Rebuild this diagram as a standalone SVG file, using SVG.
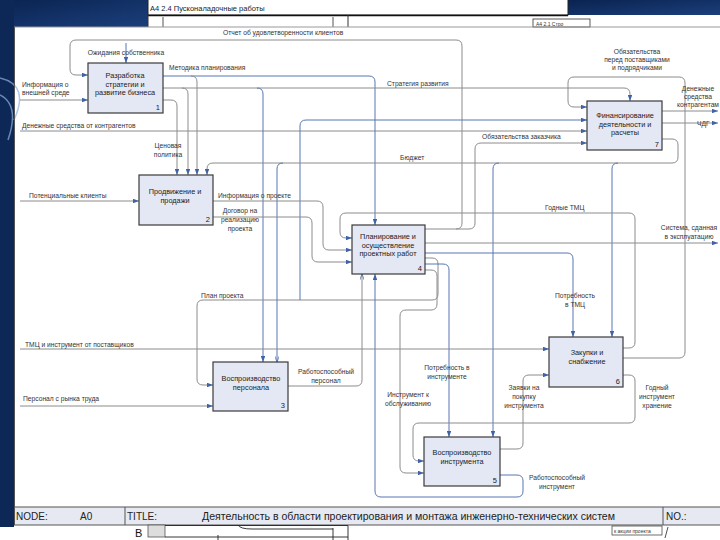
<svg xmlns="http://www.w3.org/2000/svg" width="720" height="540" viewBox="0 0 720 540">
<defs>
<linearGradient id="nav" x1="0" y1="0" x2="1" y2="1"><stop offset="0" stop-color="#0a2350"/><stop offset="1" stop-color="#1b3f7c"/></linearGradient>
<marker id="a" viewBox="0 0 8 6" refX="8" refY="3" markerWidth="6" markerHeight="4.5" orient="auto" markerUnits="userSpaceOnUse"><path d="M0,0 L8,3 L0,6 z" fill="#3f62a8"/></marker>
<marker id="h" viewBox="0 0 8 6" refX="8" refY="3" markerWidth="6" markerHeight="4.5" orient="auto" markerUnits="userSpaceOnUse"><path d="M0,0 L8,3 L0,6" fill="none" stroke="#3f62a8" stroke-width="1"/></marker>
</defs>
<style>
.c path{fill:none;stroke:#8c8c8c;stroke-width:1}
.c path.b{stroke:#5677b3}
.c path.e{marker-end:url(#a)}
.c path.o{marker-end:url(#h)}
.box rect{fill:#e4e8f4;stroke:#3a3a3a;stroke-width:1.2}
text{font-family:"Liberation Sans",Arial,sans-serif}
.bl{font-size:7.3px;fill:#222;text-anchor:middle}
.n{font-size:7.5px;fill:#222;text-anchor:end}
.t{font-size:6.7px;fill:#333}
.tm{font-size:6.7px;fill:#333;text-anchor:middle}
.tb{font-size:10px;fill:#222}
</style>
<rect width="720" height="540" fill="#fff"/>
<rect x="0" y="0" width="148" height="27" fill="url(#nav)"/>
<rect x="0" y="0" width="14" height="527" fill="#0d2856"/>
<rect x="568" y="0" width="152" height="15" fill="url(#nav)"/>
<path d="M0,78 Q30,85 14,120 M0,95 Q20,105 8,140" fill="none" stroke="#8fb0e0" stroke-width="1.5" opacity="0.7"/>
<!-- top window -->
<rect x="148" y="-1" width="420" height="16" fill="#fff" stroke="#222" stroke-width="1"/>
<line x1="148" y1="15.5" x2="568" y2="15.5" stroke="#111" stroke-width="1.5"/>
<text x="150" y="11" font-size="7.5" fill="#222">А4 2.4 Пусконаладочные работы</text>
<line x1="148" y1="15" x2="148" y2="27" stroke="#333"/>
<line x1="163" y1="17" x2="163" y2="27" stroke="#555"/>
<line x1="333" y1="17" x2="333" y2="27" stroke="#555"/>
<line x1="348" y1="15" x2="348" y2="27" stroke="#333"/>
<rect x="533" y="19" width="57" height="8" fill="#fff" stroke="#333" stroke-width="0.8"/>
<text x="536" y="25.5" font-size="5" fill="#333">А4 2.1 Стро</text>
<!-- frame -->
<line x1="14" y1="27" x2="720" y2="27" stroke="#999" stroke-width="1"/>
<line x1="14.5" y1="27" x2="14.5" y2="525" stroke="#555" stroke-width="1"/>

<g id="connectors" class="c">
<path class="e" d="M456,229 Q462,229 462,223 V46 Q462,40 456,40 H76 Q70,40 70,46 V69 Q70,75 76,75 H88"/>
<path class="e" d="M425,229 H469 Q475,229 475,223 V149 Q475,143 481,143 H587"/>
<path class="e b" d="M126,43 V63"/>
<path class="e" d="M20,100 H88"/>
<path class="e" d="M20,131 H587"/>
<path class="e b" d="M163,76 H369 Q375,76 375,82 V225"/>
<path class="e" d="M191,76 Q197,76 197,82 V175"/>
<path class="e" d="M163,88 H624 Q630,88 630,94 V101"/>
<path class="e" d="M182,88 Q188,88 188,94 V175"/>
<path class="e b" d="M257,88 Q263,88 263,94 V362"/>
<path class="e" d="M163,100 H171 Q177,100 177,106 V175"/>
<path class="e" d="M425,258 H432 Q438,258 438,264 V294 Q438,300 432,300 H203 Q197,300 197,306 V379 Q197,385 203,385 H213"/>
<path class="e b" d="M300,300 V126 Q300,120 306,120 H587"/>
<path class="e" d="M662,139 H672 Q678,139 678,145 V157 Q678,163 672,163 H213 Q207,163 207,169 V175"/>
<path class="o b" d="M283,163 Q277,163 277,169 V362"/>
<path class="e b" d="M499,163 Q493,163 493,169 V437"/>
<path class="e b" d="M618,163 Q612,163 612,169 V337"/>
<path class="e" d="M20,201 H139"/>
<path class="e" d="M213,201 H317 Q323,201 323,207 V244 Q323,250 329,250 H352"/>
<path class="e" d="M213,217 H306 Q312,217 312,223 V256 Q312,262 318,262 H352"/>
<path class="e" d="M623,348 H629 Q635,348 635,342 V219 Q635,213 629,213 H346 Q340,213 340,219 V232 Q340,238 346,238 H352"/>
<path class="e" d="M425,243 H718"/>
<path class="e b" d="M425,253 H567 Q573,253 573,259 V337"/>
<path class="e b" d="M425,264 H443 Q449,264 449,270 V437"/>
<path class="e" d="M425,270 H431 Q437,270 437,276 V304 Q437,310 431,310 H406 Q400,310 400,316 V467 Q400,473 406,473 H424"/>
<path class="o" d="M288,386 H356 Q362,386 362,380 V274"/>
<path class="e b" d="M500,475 H517 Q523,475 523,481 V491 Q523,497 517,497 H381 Q375,497 375,491 V274"/>
<path class="e" d="M500,449 H517 Q523,449 523,443 V381 Q523,375 529,375 H549"/>
<path class="e" d="M20,349 H549"/>
<path class="e" d="M20,406 H213"/>
<path class="e" d="M623,358 H679 Q685,358 685,352 V83 Q685,77 679,77 H574 Q568,77 568,83 V101 Q568,107 574,107 H587"/>
<path class="e" d="M623,375 H629 Q635,375 635,381 V417 Q635,423 629,423 H419 Q413,423 413,429 V455 Q413,461 419,461 H424"/>
<path class="e" d="M662,111 H718"/>
<path class="e" d="M662,123 H718"/>
</g>

<g id="labels">
<text class="t" x="223" y="35">Отчет об удовлетворенности клиентов</text>
<text class="tm" x="126" y="55">Ожидания собственника</text>
<text class="t" x="22" y="87">Информация о</text>
<text class="t" x="22" y="95">внешней среде</text>
<text class="t" x="22" y="128">Денежные средства от контрагентов</text>
<text class="t" x="169" y="70">Методика планирования</text>
<text class="t" x="387" y="86">Стратегия развития</text>
<text class="tm" x="168" y="148">Ценовая</text>
<text class="tm" x="168" y="157">политика</text>
<text class="t" x="400" y="160">Бюджет</text>
<text class="t" x="482" y="139">Обязательства заказчика</text>
<text class="tm" x="637" y="54">Обязательства</text>
<text class="tm" x="637" y="62">перед поставщиками</text>
<text class="tm" x="637" y="70">и подрядчиками</text>
<text class="tm" x="698" y="91">Денежные</text>
<text class="tm" x="698" y="99">средства</text>
<text class="tm" x="698" y="107">контрагентам</text>
<text class="t" x="697" y="126">ЧДГ</text>
<text class="t" x="29" y="198">Потенциальные клиенты</text>
<text class="t" x="218" y="198">Информация о проекте</text>
<text class="tm" x="240" y="213">Договор на</text>
<text class="tm" x="240" y="222">реализацию</text>
<text class="tm" x="240" y="231">проекта</text>
<text class="t" x="545" y="210">Годные ТМЦ</text>
<text class="tm" x="689" y="230">Система, сданная</text>
<text class="tm" x="689" y="239">в эксплуатацию</text>
<text class="tm" x="575" y="298">Потребность</text>
<text class="tm" x="575" y="307">в ТМЦ</text>
<text class="t" x="201" y="298">План проекта</text>
<text class="t" x="25" y="347">ТМЦ и инструмент от поставщиков</text>
<text class="tm" x="326" y="374">Работоспособный</text>
<text class="tm" x="326" y="383">персонал</text>
<text class="t" x="23" y="401">Персонал с рынка труда</text>
<text class="tm" x="447" y="370">Потребность в</text>
<text class="tm" x="447" y="379">инструменте</text>
<text class="tm" x="524" y="390">Заявки на</text>
<text class="tm" x="524" y="399">покупку</text>
<text class="tm" x="524" y="408">инструмента</text>
<text class="tm" x="657" y="390">Годный</text>
<text class="tm" x="657" y="399">инструмент</text>
<text class="tm" x="657" y="408">хранение</text>
<text class="tm" x="408" y="397">Инструмент к</text>
<text class="tm" x="408" y="406">обслуживанию</text>
<text class="tm" x="557" y="480">Работоспособный</text>
<text class="tm" x="557" y="489">инструмент</text>
</g>

<g id="n1" class="box"><rect x="88" y="63" width="75" height="50"/>
<text class="bl" x="125" y="78">Разработка</text><text class="bl" x="125" y="86.5">стратегии и</text><text class="bl" x="125" y="95">развитие бизнеса</text><text class="n" x="160" y="110">1</text></g>
<g id="n2" class="box"><rect x="139" y="175" width="74" height="50"/>
<text class="bl" x="175" y="194">Продвижение и</text><text class="bl" x="175" y="202.5">продажи</text><text class="n" x="210" y="222">2</text></g>
<g id="n4" class="box"><rect x="352" y="225" width="73" height="49"/>
<text class="bl" x="388" y="239">Планирование и</text><text class="bl" x="388" y="247.5">осуществление</text><text class="bl" x="388" y="256">проектных работ</text><text class="n" x="422" y="271">4</text></g>
<g id="n7" class="box"><rect x="587" y="101" width="75" height="49"/>
<text class="bl" x="625" y="118">Финансирование</text><text class="bl" x="625" y="126.5">деятельности и</text><text class="bl" x="625" y="135">расчеты</text><text class="n" x="659" y="147">7</text></g>
<g id="n6" class="box"><rect x="549" y="337" width="74" height="50"/>
<text class="bl" x="587" y="355">Закупки и</text><text class="bl" x="587" y="363.5">снабжение</text><text class="n" x="620" y="384">6</text></g>
<g id="n3" class="box"><rect x="213" y="362" width="75" height="49"/>
<text class="bl" x="251" y="381">Воспроизводство</text><text class="bl" x="251" y="389.5">персонала</text><text class="n" x="285" y="408">3</text></g>
<g id="n5" class="box"><rect x="424" y="437" width="76" height="49"/>
<text class="bl" x="462" y="455">Воспроизводство</text><text class="bl" x="462" y="463.5">инструмента</text><text class="n" x="497" y="483">5</text></g>

<g id="titlebar">
<rect x="14.5" y="507" width="710" height="18" fill="#e6e9f1" stroke="#555" stroke-width="1"/>
<line x1="125" y1="507" x2="125" y2="525" stroke="#555"/>
<line x1="663" y1="507" x2="663" y2="525" stroke="#555"/>
<text class="tb" x="16" y="520">NODE:</text>
<text class="tb" x="80" y="520">A0</text>
<text class="tb" x="127" y="520">TITLE:</text>
<text class="tb" x="202" y="520" textLength="413" lengthAdjust="spacingAndGlyphs">Деятельность в области проектирования и монтажа инженерно-технических систем</text>
<text class="tb" x="666" y="520">NO.:</text>
</g>
<g id="bottom">
<rect x="148" y="525" width="17" height="12" fill="#ddd" stroke="#555" stroke-width="0.8"/>
<path d="M165,525.5 H348 V540 M165,537 H348 M218,535 V540 M333,528 V540 M238,525 Q240,529 252,529 H333" fill="none" stroke="#222" stroke-width="0.9"/>
<text x="135" y="537" font-size="11" fill="#111">В</text>
<rect x="612" y="526" width="50" height="9" fill="#fff" stroke="#333" stroke-width="0.7"/>
<text x="614" y="533" font-size="5" fill="#333">к акции проекта</text>
<path d="M668,527 L665,538" stroke="#222" stroke-width="0.8"/>
</g>
</svg>
